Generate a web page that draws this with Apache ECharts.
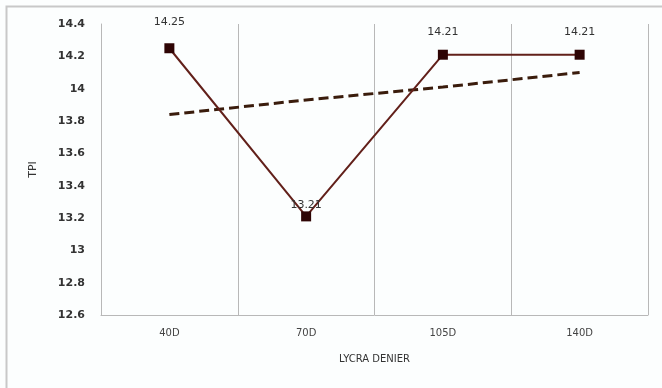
<!DOCTYPE html>
<html>
<head>
<meta charset="utf-8">
<script src="https://cdn.jsdelivr.net/npm/echarts@6/dist/echarts.min.js"></script>
<style>
  html,body{margin:0;padding:0;background:#fff;}
  #chart{width:662px;height:388px;}
</style>
</head>
<body>
<div id="chart"></div>
<script>
var categories = ["40D", "70D", "105D", "140D"];
var tpiValues = [14.25, 13.21, 14.21, 14.21];
// linear trend line
var trendValues = [13.84, 13.93, 14.01, 14.10];
var labelGaps = [16, 1, 12, 12];
var yMin = 12.6, yMax = 14.4, yStep = 0.2;

var myChart = echarts.init(document.getElementById("chart"));

function getPoints(values){
	var pts = [];
	for(var i=0;i<values.length;i++){
		pts.push({ value: values[i], label: { distance: labelGaps[i] } });
	}
	return pts;
}

var option = {
	backgroundColor: "#fcfefe",
	animation: false,
	graphic: [{
		type: "rect",
		shape: { x: 6.5, y: 6.5, width: 700, height: 400 },
		style: { fill: "none", stroke: "#c8c8c8", lineWidth: 2 },
		silent: true
	}],
	grid: {
		left: 101,
		right: 14,
		top: 24,
		bottom: 73
	},
	xAxis: {
		type: "category",
		data: categories,
		boundaryGap: true,
		name: "LYCRA DENIER",
		nameLocation: "middle",
		nameGap: 39,
		nameTextStyle: { fontFamily: "DejaVu Sans", fontSize: 10, color: "#333" },
		axisLine: { show: true, lineStyle: { color: "#b8b8b8", width: 1 } },
		axisTick: { show: false },
		axisLabel: { fontFamily: "DejaVu Sans", fontSize: 10, color: "#444", margin: 13 },
		splitLine: { show: true, lineStyle: { color: "#b8b8b8", width: 1 } }
	},
	yAxis: {
		type: "value",
		min: yMin,
		max: yMax,
		interval: yStep,
		name: "TPI",
		nameLocation: "middle",
		nameGap: 62,
		nameRotate: 90,
		nameTextStyle: { fontFamily: "DejaVu Sans", fontSize: 11, color: "#333" },
		axisLine: { show: true, lineStyle: { color: "#b8b8b8", width: 1 } },
		axisTick: { show: false },
		axisLabel: { fontFamily: "DejaVu Sans", fontSize: 11, color: "#333", fontWeight: "bold", margin: 16 },
		splitLine: { show: false }
	},
	series: [
		{
			type: "line",
			data: getPoints(tpiValues),
			symbol: "rect",
			symbolSize: 10,
			lineStyle: { color: "#62201a", width: 2 },
			itemStyle: { color: "#2e0404" },
			label: {
				show: true,
				position: "top",
				fontFamily: "DejaVu Sans",
				fontSize: 11,
				color: "#333"
			},
			z: 3
		},
		{
			type: "line",
			data: trendValues,
			symbol: "none",
			lineStyle: { color: "#3a1c0c", width: 3, type: [10, 5] },
			z: 2
		}
	]
};

myChart.setOption(option);
</script>
</body>
</html>
